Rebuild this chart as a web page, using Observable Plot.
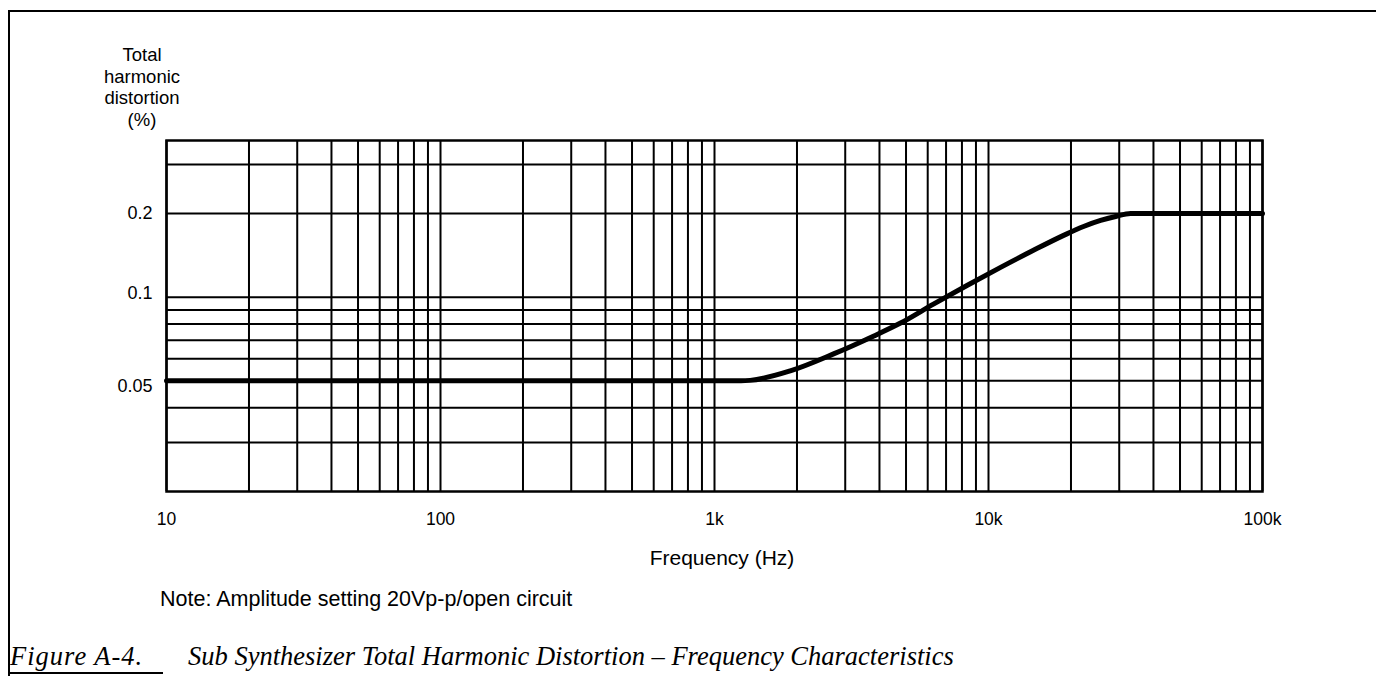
<!DOCTYPE html>
<html>
<head>
<meta charset="utf-8">
<script src="https://cdn.jsdelivr.net/npm/d3@7"></script>
<script src="https://cdn.jsdelivr.net/npm/@observablehq/plot@0.6"></script>
<style>
  html, body { margin: 0; padding: 0; background: #fff; }
  #page { position: relative; width: 1376px; height: 676px; overflow: hidden; font-family: "Liberation Sans", Arial, sans-serif; color: #000; }
  .abs { position: absolute; white-space: nowrap; }
  #border { position: absolute; left: 8px; top: 10px; width: 1400px; height: 666px; border-left: 2px solid #000; border-top: 2px solid #000; }
  #bottomseg { position: absolute; left: 8px; top: 672px; width: 155px; height: 0; border-top: 2px solid #000; }
  #ylabel { left: 82px; top: 44px; width: 120px; text-align: center; font-size: 18.5px; line-height: 21.5px; white-space: normal; }
  #xlabel { left: 572px; top: 546px; width: 300px; text-align: center; font-size: 21px; }
  #note { left: 160px; top: 587px; font-size: 21.5px; }
  .cap { top: 641px; font-family: "Liberation Serif", "DejaVu Serif", serif; font-style: italic; font-size: 26.5px; }
  #chart { position: absolute; left: 0; top: 120px; }
</style>
</head>
<body>
<div id="page">
  <div id="border"></div>
  <div id="bottomseg"></div>
  <div id="ylabel" class="abs">Total<br>harmonic<br>distortion<br>(%)</div>
  <div id="chart"></div>
  <div id="xlabel" class="abs">Frequency (Hz)</div>
  <div id="note" class="abs">Note: Amplitude setting 20Vp-p/open circuit</div>
  <div class="abs cap" style="left:10px; letter-spacing:1px">Figure A-4.</div>
  <div class="abs cap" style="left:188px">Sub Synthesizer Total Harmonic Distortion – Frequency Characteristics</div>
</div>
<script>
// Curve (frequency in Hz, THD in %)
const freqs = [10, 100, 1000, 1250, 1350, 1890, 2720, 3800, 4775, 6295, 8375, 11070, 14590, 18800, 22230, 25650, 29100, 33000, 100000];
const thd   = [0.05, 0.05, 0.05, 0.05, 0.0502, 0.0543, 0.0625, 0.0724, 0.0807, 0.0944, 0.1104, 0.128, 0.1474, 0.1668, 0.1796, 0.1888, 0.1951, 0.2, 0.2];

// Grid and tick values
const xGrid = [10,20,30,40,50,60,70,80,90,100,200,300,400,500,600,700,800,900,1000,2000,3000,4000,5000,6000,7000,8000,9000,10000,20000,30000,40000,50000,60000,70000,80000,90000,100000];
const yGrid = [0.03, 0.04, 0.05, 0.06, 0.07, 0.08, 0.09, 0.1, 0.2, 0.3];
const xTicks = [10, 100, 1000, 10000, 100000];
const xTickLabels = ["10", "100", "1k", "10k", "100k"];
const yTicks = [0.05, 0.1, 0.2];
const yTickLabels = ["0.05", "0.1", "0.2"];
const yTickShift = [5, -4, 0];

const data = freqs.map((f, i) => ({f, v: thd[i]}));
const yFmt = d => yTickLabels[yTicks.indexOf(d)];

const chart = Plot.plot({
  width: 1376,
  height: 420,
  marginLeft: 166,
  marginRight: 114,
  marginTop: 20,
  marginBottom: 49,
  style: {fontFamily: "'Liberation Sans', Arial, sans-serif", color: "#000", background: "transparent"},
  x: {type: "log", domain: [10, 100000]},
  y: {type: "log", domain: [0.02, 0.366]},
  marks: [
    Plot.ruleX(xGrid, {stroke: "#000", strokeWidth: 2}),
    Plot.ruleY(yGrid, {stroke: "#000", strokeWidth: 2}),
    Plot.frame({stroke: "#000", strokeWidth: 2.5}),
    Plot.line(data, {x: "f", y: "v", stroke: "#000", strokeWidth: 5, curve: "monotone-x"}),
    Plot.axisX(xTicks, {tickSize: 0, tickPadding: 21, fontSize: 17.5, label: null,
      tickFormat: d => xTickLabels[xTicks.indexOf(d)]}),
    ...yTicks.map((t, i) => Plot.axisY([t], {tickSize: 0, tickPadding: 14, fontSize: 18, label: null,
      dy: yTickShift[i], tickFormat: yFmt}))
  ]
});
document.getElementById("chart").appendChild(chart);
</script>
</body>
</html>
